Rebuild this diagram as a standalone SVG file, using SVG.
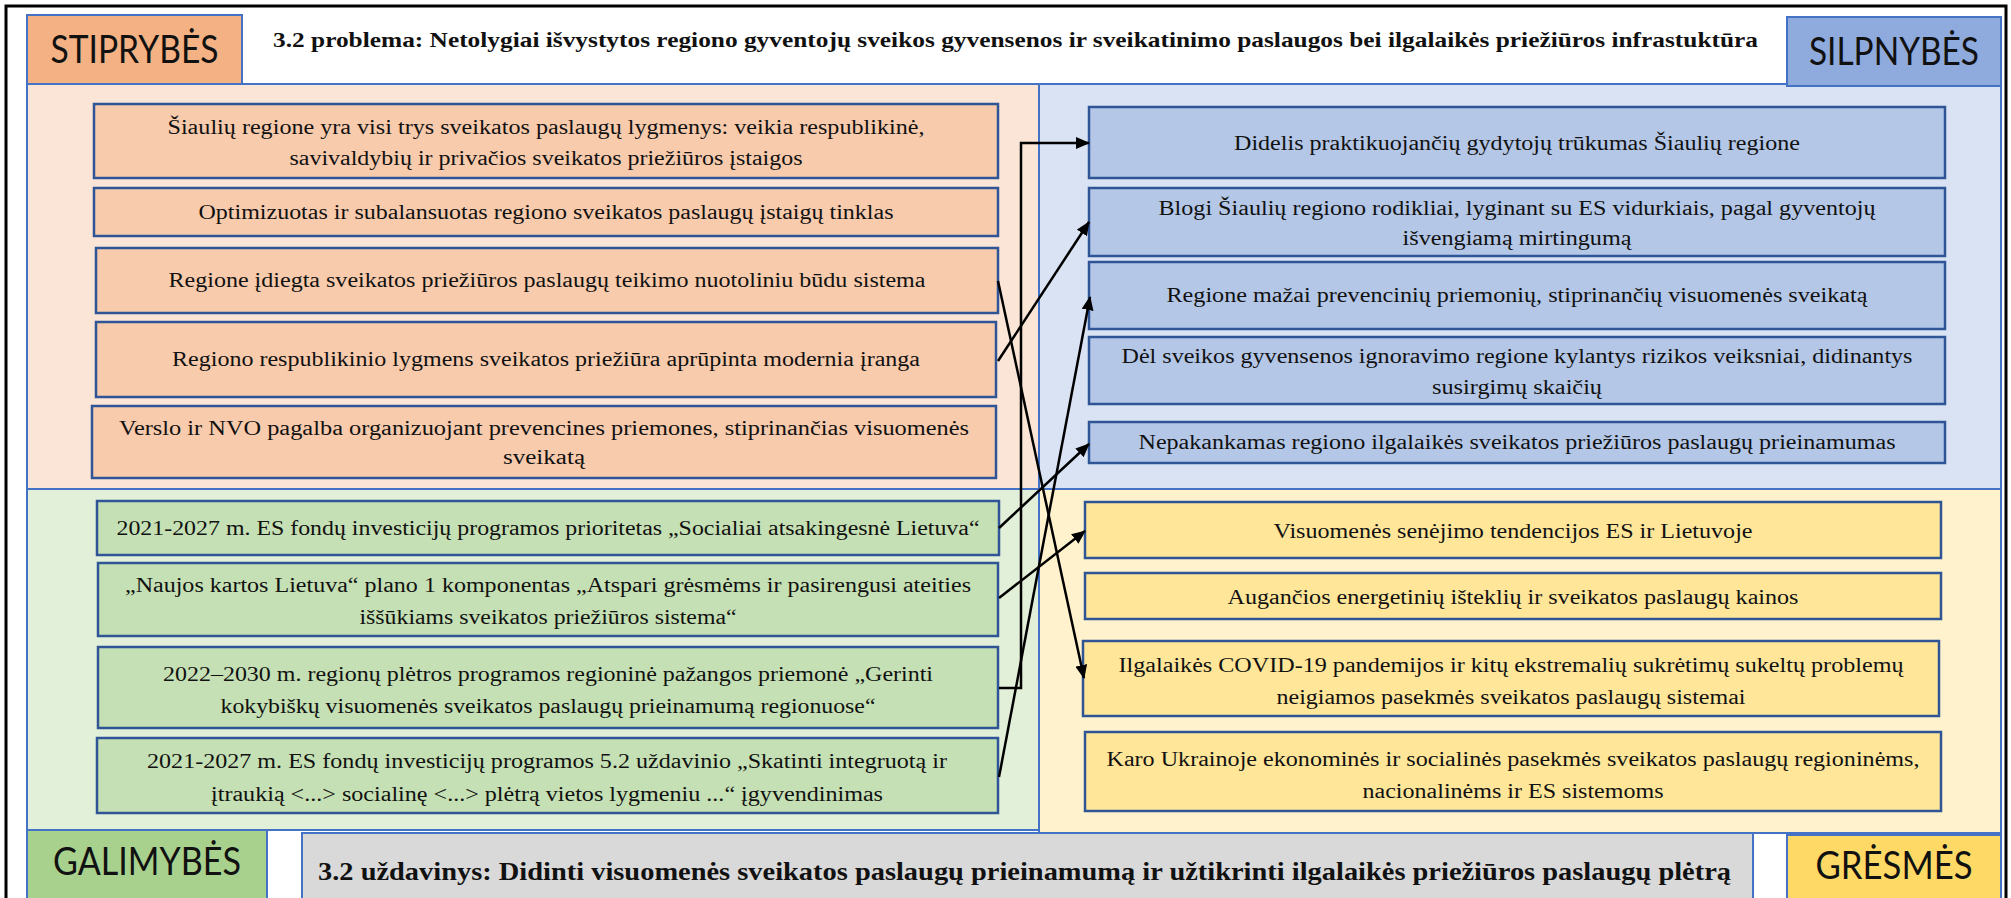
<svg xmlns="http://www.w3.org/2000/svg" width="2011" height="898" viewBox="0 0 2011 898">
<defs>
<marker id="ah" viewBox="0 0 14 12" markerWidth="14" markerHeight="12" refX="13" refY="6" orient="auto" markerUnits="userSpaceOnUse">
<path d="M0,0 L14,6 L0,12 z" fill="#000"/>
</marker>
</defs>
<style>
.panel{stroke:#4472C4;stroke-width:2}
.box{stroke:#2F5597;stroke-width:2.5}
.s{fill:#F8CBAD}.w{fill:#B4C7E7}.o{fill:#C5E0B4}.t{fill:#FFE699}
.tx{font-family:"Liberation Serif","Times New Roman",serif;font-size:20px;fill:#111;text-anchor:middle}
.lab{font-family:Lato,"Liberation Sans",sans-serif;font-size:38px;fill:#111;text-anchor:middle}
.hd{font-family:"Liberation Serif","Times New Roman",serif;font-weight:bold;fill:#111}
.con{fill:none;stroke:#000;stroke-width:2.5}
</style>
<rect x="0" y="0" width="2011" height="898" fill="#fff"/>
<rect x="6" y="6" width="2000" height="910" fill="none" stroke="#000" stroke-width="3"/>

<!-- panels -->
<g id="panels">
<rect class="panel" x="27" y="84" width="1012" height="405" fill="#FBE5D6"/>
<rect class="panel" x="1039" y="84" width="962" height="405" fill="#DAE3F3"/>
<rect class="panel" x="27" y="489" width="1012" height="341" fill="#E2F0D9"/>
<rect class="panel" x="1039" y="489" width="962" height="344" fill="#FFF2CC"/>
</g>

<!-- header -->
<g id="stiprybes">
<rect class="panel" x="27" y="15" width="215" height="69" fill="#F4B183"/>
<text class="lab" x="134.5" y="63" textLength="168" lengthAdjust="spacingAndGlyphs">STIPRYBĖS</text>
</g>
<g id="problem">
<text class="hd" x="273" y="47" font-size="21" textLength="1485" lengthAdjust="spacingAndGlyphs">3.2 problema: Netolygiai išvystytos regiono gyventojų sveikos gyvensenos ir sveikatinimo paslaugos bei ilgalaikės priežiūros infrastuktūra</text>
</g>
<g id="silpnybes">
<rect class="panel" x="1787" y="17" width="214" height="69" fill="#8FAADC"/>
<text class="lab" x="1894" y="65" textLength="170" lengthAdjust="spacingAndGlyphs">SILPNYBĖS</text>
</g>

<!-- strengths -->
<g id="s1"><rect class="box s" x="94" y="104" width="904" height="74"/>
<text class="tx" x="546" y="134" textLength="757" lengthAdjust="spacingAndGlyphs">Šiaulių regione yra visi trys sveikatos paslaugų lygmenys: veikia respublikinė,</text>
<text class="tx" x="546" y="165" textLength="513" lengthAdjust="spacingAndGlyphs">savivaldybių ir privačios sveikatos priežiūros įstaigos</text></g>
<g id="s2"><rect class="box s" x="94" y="188" width="904" height="48"/>
<text class="tx" x="546" y="219" textLength="695" lengthAdjust="spacingAndGlyphs">Optimizuotas ir subalansuotas regiono sveikatos paslaugų įstaigų tinklas</text></g>
<g id="s3"><rect class="box s" x="96" y="248" width="902" height="65"/>
<text class="tx" x="547" y="287" textLength="757" lengthAdjust="spacingAndGlyphs">Regione įdiegta  sveikatos priežiūros paslaugų teikimo nuotoliniu būdu sistema</text></g>
<g id="s4"><rect class="box s" x="96" y="322" width="900" height="75"/>
<text class="tx" x="546" y="366" textLength="748" lengthAdjust="spacingAndGlyphs">Regiono respublikinio lygmens sveikatos priežiūra aprūpinta modernia įranga</text></g>
<g id="s5"><rect class="box s" x="92" y="406" width="904" height="72"/>
<text class="tx" x="544" y="435" textLength="850" lengthAdjust="spacingAndGlyphs">Verslo ir NVO pagalba organizuojant  prevencines priemones, stiprinančias visuomenės</text>
<text class="tx" x="544" y="464" textLength="82" lengthAdjust="spacingAndGlyphs">sveikatą</text></g>

<!-- weaknesses -->
<g id="w1"><rect class="box w" x="1089" y="107" width="856" height="71"/>
<text class="tx" x="1517" y="150" textLength="566" lengthAdjust="spacingAndGlyphs">Didelis praktikuojančių gydytojų trūkumas Šiaulių regione</text></g>
<g id="w2"><rect class="box w" x="1089" y="188" width="856" height="68"/>
<text class="tx" x="1517" y="215" textLength="717" lengthAdjust="spacingAndGlyphs">Blogi  Šiaulių regiono rodikliai, lyginant su ES vidurkiais, pagal gyventojų</text>
<text class="tx" x="1517" y="245" textLength="229" lengthAdjust="spacingAndGlyphs">išvengiamą mirtingumą</text></g>
<g id="w3"><rect class="box w" x="1089" y="262" width="856" height="67"/>
<text class="tx" x="1517" y="302" textLength="701" lengthAdjust="spacingAndGlyphs">Regione mažai prevencinių priemonių, stiprinančių visuomenės sveikatą</text></g>
<g id="w4"><rect class="box w" x="1089" y="337" width="856" height="67"/>
<text class="tx" x="1517" y="363" textLength="791" lengthAdjust="spacingAndGlyphs">Dėl sveikos gyvensenos ignoravimo regione kylantys rizikos veiksniai, didinantys</text>
<text class="tx" x="1517" y="394" textLength="170" lengthAdjust="spacingAndGlyphs">susirgimų skaičių</text></g>
<g id="w5"><rect class="box w" x="1089" y="422" width="856" height="41"/>
<text class="tx" x="1517" y="449" textLength="757" lengthAdjust="spacingAndGlyphs">Nepakankamas regiono ilgalaikės sveikatos priežiūros paslaugų prieinamumas</text></g>

<!-- opportunities -->
<g id="o1"><rect class="box o" x="97" y="501" width="902" height="54"/>
<text class="tx" x="548" y="535" textLength="863" lengthAdjust="spacingAndGlyphs">2021-2027  m. ES  fondų investicijų programos prioritetas „Socialiai atsakingesnė Lietuva“</text></g>
<g id="o2"><rect class="box o" x="98" y="563" width="900" height="73"/>
<text class="tx" x="548" y="592" textLength="846" lengthAdjust="spacingAndGlyphs">„Naujos kartos Lietuva“  plano 1  komponentas „Atspari grėsmėms ir pasirengusi ateities</text>
<text class="tx" x="548" y="624" textLength="377" lengthAdjust="spacingAndGlyphs">iššūkiams sveikatos priežiūros sistema“</text></g>
<g id="o3"><rect class="box o" x="98" y="647" width="900" height="81"/>
<text class="tx" x="548" y="681" textLength="770" lengthAdjust="spacingAndGlyphs">2022–2030  m. regionų plėtros programos regioninė pažangos priemonė „Gerinti</text>
<text class="tx" x="548" y="713" textLength="655" lengthAdjust="spacingAndGlyphs">kokybiškų visuomenės sveikatos paslaugų prieinamumą regionuose“</text></g>
<g id="o4"><rect class="box o" x="97" y="738" width="901" height="75"/>
<text class="tx" x="547" y="768" textLength="800" lengthAdjust="spacingAndGlyphs">2021-2027  m. ES  fondų investicijų programos 5.2 uždavinio „Skatinti integruotą ir</text>
<text class="tx" x="547" y="801" textLength="672" lengthAdjust="spacingAndGlyphs">įtraukią &lt;...&gt; socialinę &lt;...&gt; plėtrą vietos lygmeniu ...“ įgyvendinimas</text></g>

<!-- threats -->
<g id="t1"><rect class="box t" x="1085" y="502" width="856" height="56"/>
<text class="tx" x="1513" y="538" textLength="479" lengthAdjust="spacingAndGlyphs">Visuomenės senėjimo tendencijos ES ir Lietuvoje</text></g>
<g id="t2"><rect class="box t" x="1085" y="573" width="856" height="46"/>
<text class="tx" x="1513" y="604" textLength="571" lengthAdjust="spacingAndGlyphs">Augančios energetinių išteklių ir sveikatos paslaugų kainos</text></g>
<g id="t3"><rect class="box t" x="1083" y="641" width="856" height="75"/>
<text class="tx" x="1511" y="672" textLength="785" lengthAdjust="spacingAndGlyphs">Ilgalaikės COVID-19 pandemijos ir kitų ekstremalių sukrėtimų sukeltų problemų</text>
<text class="tx" x="1511" y="704" textLength="469" lengthAdjust="spacingAndGlyphs">neigiamos pasekmės sveikatos paslaugų sistemai</text></g>
<g id="t4"><rect class="box t" x="1085" y="732" width="856" height="79"/>
<text class="tx" x="1513" y="766" textLength="813" lengthAdjust="spacingAndGlyphs">Karo Ukrainoje ekonominės ir socialinės pasekmės sveikatos paslaugų regioninėms,</text>
<text class="tx" x="1513" y="798" textLength="301" lengthAdjust="spacingAndGlyphs">nacionalinėms ir ES sistemoms</text></g>

<!-- footer -->
<g id="galimybes">
<rect class="panel" x="27" y="830" width="240" height="72" fill="#A9D18E"/>
<text class="lab" x="147" y="875" textLength="188" lengthAdjust="spacingAndGlyphs">GALIMYBĖS</text>
</g>
<g id="task">
<rect class="panel" x="302" y="833" width="1451" height="70" fill="#D9D9D9"/>
<text class="hd" x="318" y="880" font-size="25" textLength="1413" lengthAdjust="spacingAndGlyphs">3.2 uždavinys: Didinti visuomenės sveikatos paslaugų prieinamumą ir užtikrinti ilgalaikės priežiūros paslaugų plėtrą</text>
</g>
<g id="gresmes">
<rect class="panel" x="1787" y="835" width="214" height="68" fill="#FFD966"/>
<text class="lab" x="1894" y="879" textLength="157" lengthAdjust="spacingAndGlyphs">GRĖSMĖS</text>
</g>

<!-- connectors -->
<g id="connectors">
<path class="con" d="M999,688 H1021 V143 H1089" stroke-width="3" marker-end="url(#ah)"/>
<path class="con" d="M998,361 L1089,222" marker-end="url(#ah)"/>
<path class="con" d="M998,281 L1084,678" marker-end="url(#ah)"/>
<path class="con" d="M999,777 L1090,297" marker-end="url(#ah)"/>
<path class="con" d="M999,528 L1089,444" marker-end="url(#ah)"/>
<path class="con" d="M999,598 L1085,531" marker-end="url(#ah)"/>
</g>
</svg>
